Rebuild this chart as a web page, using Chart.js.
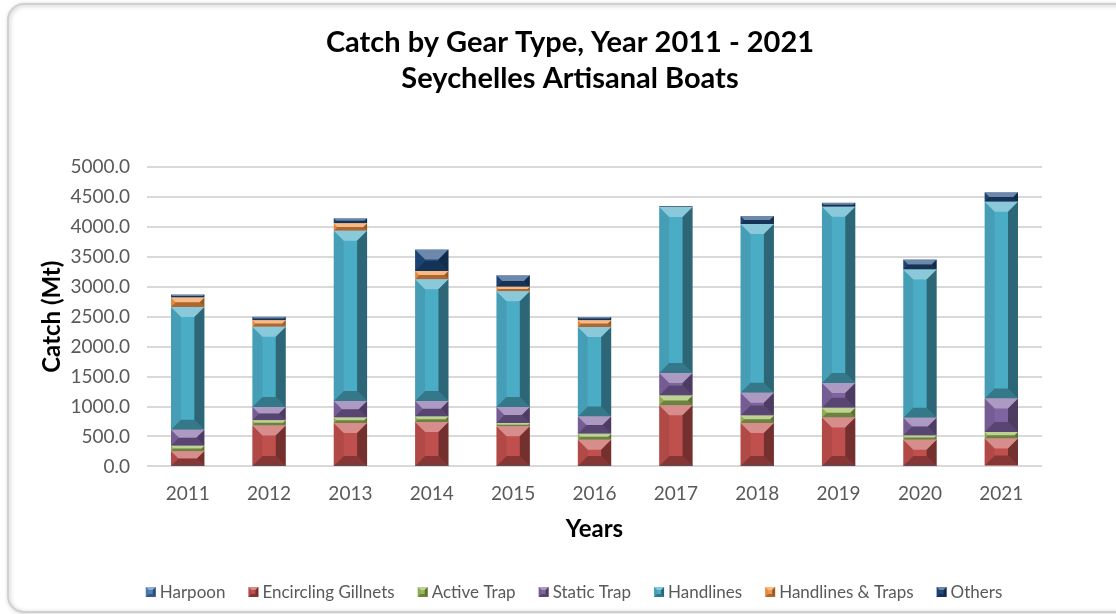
<!DOCTYPE html>
<html>
<head>
<meta charset="utf-8">
<title>Catch by Gear Type</title>
<script src="https://cdn.jsdelivr.net/npm/chart.js@4.4.1/dist/chart.umd.min.js"></script>
<style>
  html, body { margin: 0; padding: 0; background: #fff; }
  #wrap { width: 1116px; height: 614px; position: relative; }
</style>
</head>
<body>
<div id="wrap"><canvas id="chart" width="1116" height="614"></canvas></div>
<script>
// ---- data (Mt) ----
const years = ['2011', '2012', '2013', '2014', '2015', '2016', '2017', '2018', '2019', '2020', '2021'];
const harpoon            = [5, 5, 5, 5, 5, 5, 5, 5, 5, 5, 15];
const encirclingGillnets = [250, 680, 720, 735, 665, 440, 1015, 720, 810, 440, 450];
const activeTrap         = [90, 85, 90, 95, 55, 100, 165, 125, 165, 72, 110];
const staticTrap         = [268, 223, 279, 256, 268, 290, 373, 379, 412, 295, 557];
const handlines          = [2050, 1338, 2843, 2035, 1934, 1494, 2776, 2820, 2943, 2475, 3289];
const handlinesTraps     = [156, 111, 123, 139, 72, 111, 0, 0, 0, 0, 0];
const others             = [50, 56, 84, 357, 195, 56, 10, 134, 67, 167, 156];

const titleLines = ['Catch by Gear Type, Year 2011 - 2021', 'Seychelles Artisanal Boats'];

const FONT = 'Lato, "Open Sans", sans-serif';
const GREY = '#595959';

const series = [
  { label: 'Harpoon', data: harpoon, color: '#4F81BD' },
  { label: 'Encircling Gillnets', data: encirclingGillnets, color: '#C0504D' },
  { label: 'Active Trap', data: activeTrap, color: '#9BBB59' },
  { label: 'Static Trap', data: staticTrap, color: '#8064A2' },
  { label: 'Handlines', data: handlines, color: '#4BACC6' },
  { label: 'Handlines & Traps', data: handlinesTraps, color: '#F79646' },
  { label: 'Others', data: others, color: '#1F497D' }
];

// bevelled rectangle, used for bar segments and legend keys
function bevel(ctx, l, t, r, b, size) {
  const s = Math.min(size, (b - t) / 2, (r - l) / 2);
  const poly = (pts, fill) => {
    ctx.beginPath();
    ctx.moveTo(pts[0][0], pts[0][1]);
    pts.slice(1).forEach(q => ctx.lineTo(q[0], q[1]));
    ctx.closePath();
    ctx.fillStyle = fill;
    ctx.fill();
  };
  poly([[l, t], [r, t], [r - s, t + s], [l + s, t + s]], 'rgba(255,255,255,0.35)');
  poly([[l, b], [r, b], [r - s, b - s], [l + s, b - s]], 'rgba(0,0,0,0.30)');
  poly([[l, t], [l + s, t + s], [l + s, b - s], [l, b]], 'rgba(0,0,0,0.08)');
  poly([[r, t], [r - s, t + s], [r - s, b - s], [r, b]], 'rgba(0,0,0,0.40)');
}

// rounded frame around the whole chart
const framePlugin = {
  id: 'frame',
  beforeDraw(chart) {
    const ctx = chart.ctx;
    ctx.save();
    ctx.fillStyle = '#fff';
    ctx.fillRect(0, 0, chart.width, chart.height);
    ctx.shadowColor = 'rgba(0,0,0,0.25)';
    ctx.shadowBlur = 4;
    ctx.shadowOffsetX = 1;
    ctx.shadowOffsetY = 1;
    ctx.strokeStyle = '#d0d0d0';
    ctx.lineWidth = 2;
    ctx.beginPath();
    ctx.roundRect(8, 4, chart.width + 40, chart.height - 6, 16);
    ctx.stroke();
    ctx.restore();
  }
};

// bevel look on each bar segment, drawn over the library's bar elements
const bevelPlugin = {
  id: 'bevel',
  afterDatasetsDraw(chart) {
    const ctx = chart.ctx;
    chart.data.datasets.forEach((ds, i) => {
      const meta = chart.getDatasetMeta(i);
      if (meta.hidden) return;
      meta.data.forEach(bar => {
        const p = bar.getProps(['x', 'y', 'base', 'width'], true);
        const t = Math.min(p.y, p.base), b = Math.max(p.y, p.base);
        if (b - t < 0.5) return;
        ctx.save();
        bevel(ctx, p.x - p.width / 2, t, p.x + p.width / 2, b, 10);
        ctx.restore();
      });
    });
  }
};

// title (two lines) and legend, centred a bit right of the canvas middle like the original
const headFootPlugin = {
  id: 'headFoot',
  afterDraw(chart) {
    const ctx = chart.ctx;
    const cx = 570;
    ctx.save();
    ctx.fillStyle = '#000';
    ctx.textAlign = 'center';
    ctx.textBaseline = 'middle';
    ctx.font = 'bold 29px ' + FONT;
    titleLines.forEach((line, i) => ctx.fillText(line, cx, 43 + i * 36));

    // legend
    ctx.font = '17px ' + FONT;
    ctx.textAlign = 'left';
    const box = 10, gapText = 4, gapItem = 23;
    const widths = series.map(s => box + gapText + ctx.measureText(s.label).width);
    const total = widths.reduce((a, w) => a + w, 0) + gapItem * (series.length - 1);
    let x = 574 - total / 2;
    const y = 592;
    series.forEach((s, i) => {
      ctx.fillStyle = s.color;
      ctx.fillRect(x, y - box / 2, box, box);
      bevel(ctx, x, y - box / 2, x + box, y + box / 2, 3);
      ctx.fillStyle = GREY;
      ctx.fillText(s.label, x + box + gapText, y + 1);
      x += widths[i] + gapItem;
    });
    ctx.restore();
  }
};

new Chart(document.getElementById('chart'), {
  type: 'bar',
  data: {
    labels: years,
    datasets: series.map(s => ({
      label: s.label,
      data: s.data,
      backgroundColor: s.color,
      borderWidth: 0,
      barPercentage: 0.41,
      categoryPercentage: 1.0
    }))
  },
  options: {
    responsive: false,
    animation: false,
    layout: { padding: { left: 38, right: 74, top: 167, bottom: 70 } },
    plugins: {
      title: { display: false },
      legend: { display: false },
      tooltip: { enabled: false }
    },
    scales: {
      x: {
        stacked: true,
        grid: { display: false },
        border: { display: false },
        ticks: { color: GREY, font: { family: FONT, size: 19 }, padding: 8 },
        title: {
          display: true, text: 'Years', color: '#000',
          font: { family: FONT, size: 24, weight: 'bold' },
          padding: { top: 2, bottom: 0 }
        }
      },
      y: {
        stacked: true,
        min: 0,
        max: 5000,
        afterFit: scale => { scale.width = 109; },
        grid: { color: '#d9d9d9', lineWidth: 2, drawTicks: false },
        border: { display: false },
        ticks: {
          stepSize: 500,
          color: GREY,
          font: { family: FONT, size: 19 },
          padding: 17,
          callback: v => v.toFixed(1)
        },
        title: {
          display: true, text: 'Catch (Mt)', color: '#000',
          font: { family: FONT, size: 24, weight: 'bold' },
          padding: { top: 0, bottom: 6 }
        }
      }
    }
  },
  plugins: [framePlugin, bevelPlugin, headFootPlugin]
});
</script>
</body>
</html>
